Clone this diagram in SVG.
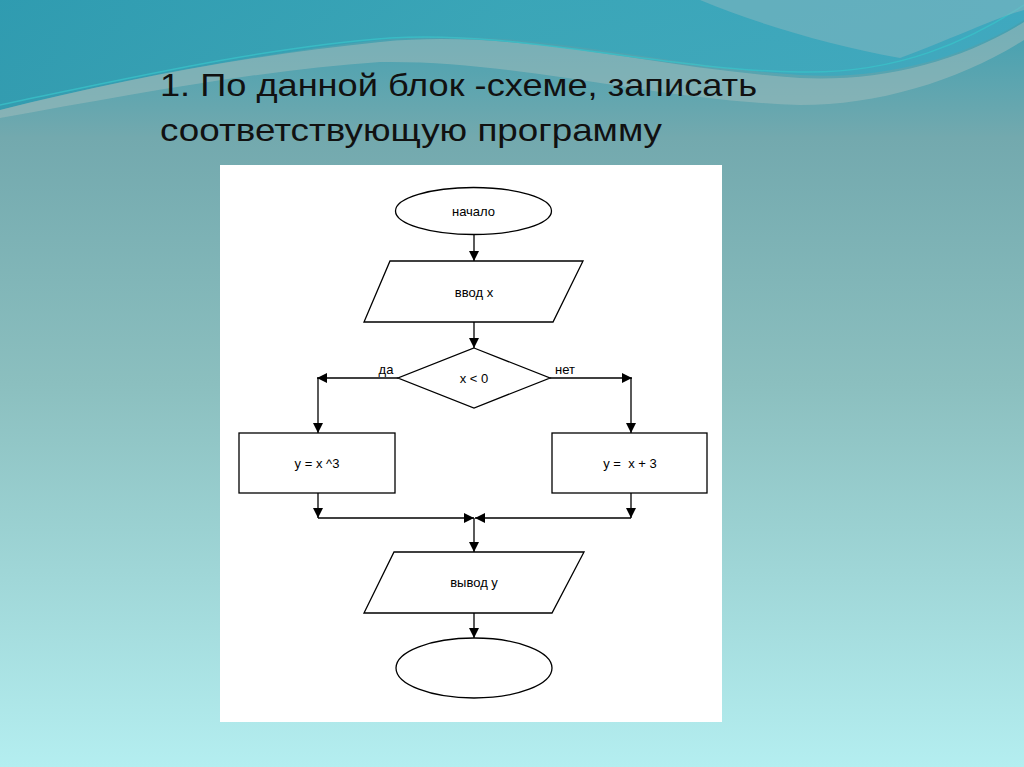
<svg xmlns="http://www.w3.org/2000/svg" width="1024" height="767" viewBox="0 0 1024 767">
<defs>
<linearGradient id="bg" x1="0" y1="0" x2="0" y2="1">
<stop offset="0" stop-color="#3a9fb2"/>
<stop offset="0.18" stop-color="#73a9ae"/>
<stop offset="0.5" stop-color="#8bbfbf"/>
<stop offset="1" stop-color="#b4eef0"/>
</linearGradient>
<linearGradient id="wave" x1="0" y1="0" x2="1" y2="0">
<stop offset="0" stop-color="#2e9bb0"/>
<stop offset="0.5" stop-color="#3aa6b8"/>
<stop offset="1" stop-color="#3fa9c0"/>
</linearGradient>
<marker id="arr" viewBox="0 0 10 10" refX="10" refY="5" markerWidth="10" markerHeight="10" markerUnits="userSpaceOnUse" orient="auto">
<path d="M0,0 L10,5 L0,10 z" fill="#000"/>
</marker>
<style>
.shape{fill:#fff;stroke:#000;stroke-width:1.3}
.lbl{font-family:"Liberation Sans",Arial,sans-serif;font-size:13px;fill:#000;text-anchor:middle}
.con{fill:none;stroke:#000;stroke-width:1.3}
.title{font-family:"Liberation Sans Narrow","Liberation Sans",sans-serif;font-size:32px;fill:#111}
</style>
</defs>
<rect x="0" y="0" width="1024" height="767" fill="url(#bg)"/>
<path d="M0,0 H1024 V20 C960,60 880,80 800,75 C650,65 520,25 380,40 C250,55 120,80 0,110 Z" fill="url(#wave)" opacity="0.9"/>
<path d="M0,110 C120,80 250,55 380,42 C520,28 650,68 800,78 C880,82 960,62 1024,22 V40 C960,80 880,105 800,105 C650,100 520,60 380,62 C260,70 130,95 0,118 Z" fill="#9fbcbc" opacity="0.55"/>
<path d="M0,105 C130,78 260,48 390,38 C520,30 660,70 800,72 C900,74 970,40 1024,5" fill="none" stroke="#3ac0c8" stroke-width="1.5" opacity="0.8"/>
<path d="M700,0 C760,25 830,45 900,58 C950,40 990,20 1024,10 V0 Z" fill="#8ab8c0" opacity="0.5"/>
<text class="title" x="160" y="96" textLength="597" lengthAdjust="spacingAndGlyphs">1. По данной блок -схеме, записать</text>
<text class="title" x="160" y="141" textLength="502" lengthAdjust="spacingAndGlyphs">соответствующую программу</text>
<rect x="220" y="165" width="502" height="557" fill="#fff"/>
<g id="start"><ellipse class="shape" cx="473.5" cy="211" rx="78" ry="23.5"/><text class="lbl" x="473.5" y="216">начало</text></g>
<g id="input"><polygon class="shape" points="390,261 583,261 553,322 364,322"/><text class="lbl" x="474" y="297">ввод х</text></g>
<g id="cond"><polygon class="shape" points="474,348 550,378 474,408 398,378"/><text class="lbl" x="474" y="383">x &lt; 0</text>
<text class="lbl" x="386" y="374">да</text><text class="lbl" x="565" y="374">нет</text></g>
<g id="left"><rect class="shape" x="239" y="433" width="156" height="60"/><text class="lbl" x="317" y="468">y = x ^3</text></g>
<g id="right"><rect class="shape" x="552" y="433" width="155" height="60"/><text class="lbl" x="630" y="468" xml:space="preserve">y =  x + 3</text></g>
<g id="output"><polygon class="shape" points="394,552 584,552 552,613 364,613"/><text class="lbl" x="474" y="587">вывод y</text></g>
<g id="end"><ellipse class="shape" cx="474" cy="668" rx="78" ry="30"/></g>
<g id="connectors">
<path class="con" d="M474,234.5 V261" marker-end="url(#arr)"/>
<path class="con" d="M474,322 V348" marker-end="url(#arr)"/>
<path class="con" d="M398,378 H317" marker-end="url(#arr)"/>
<path class="con" d="M318,378 V433" marker-end="url(#arr)"/>
<path class="con" d="M550,378 H632" marker-end="url(#arr)"/>
<path class="con" d="M631,378 V433" marker-end="url(#arr)"/>
<path class="con" d="M318,493 V518" marker-end="url(#arr)"/>
<path class="con" d="M631,493 V518" marker-end="url(#arr)"/>
<path class="con" d="M318,518 H474" marker-end="url(#arr)"/>
<path class="con" d="M631,518 H475" marker-end="url(#arr)"/>
<path class="con" d="M474,518 V552" marker-end="url(#arr)"/>
<path class="con" d="M474,613 V638" marker-end="url(#arr)"/>
</g>
</svg>
